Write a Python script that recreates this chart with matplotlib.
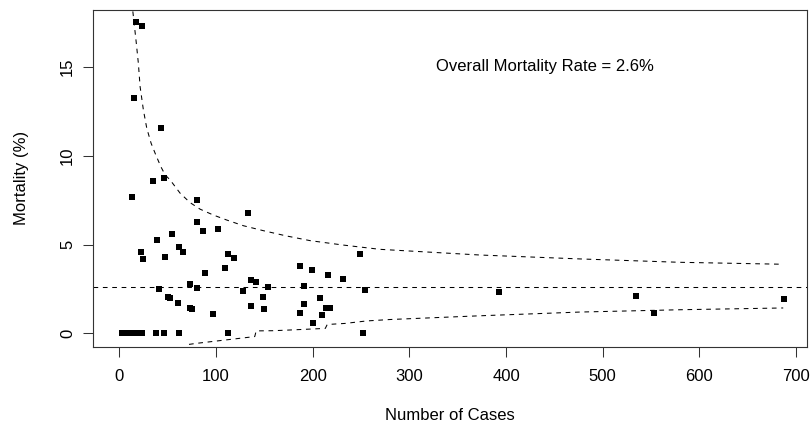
import matplotlib
matplotlib.use("Agg")
import matplotlib.pyplot as plt

plt.rcParams['font.family'] = ['Liberation Sans', 'DejaVu Sans']

# cases per centre and mortality (%)
cases = [17, 23.2, 14.9, 42.8, 46.2, 35, 13.1, 80, 133.4, 80,
         86.9, 101.8, 54.2, 38.6, 62, 66.2, 22.1, 24.2, 47.3, 112.7,
         118.9, 109.3, 88.9, 135.9, 141, 153.5, 127.9, 73.1, 80, 41.1,
         50, 52.4, 148.9, 61, 72.8, 75.2, 135.9, 150, 97.2,
         3, 8, 13, 18, 23, 38.3, 45.9, 62, 112.7, 252,
         249, 187, 199, 216, 231, 191, 254, 208, 191, 187,
         214, 217.5, 210, 200.6,
         393, 534, 553, 687]
mortality = [17.52, 17.31, 13.27, 11.58, 8.73, 8.6, 7.70, 7.51, 6.76, 6.25,
             5.76, 5.89, 5.58, 5.27, 4.86, 4.56, 4.56, 4.19, 4.28, 4.45,
             4.22, 3.70, 3.42, 2.99, 2.87, 2.61, 2.38, 2.76, 2.54, 2.48,
             2.06, 1.97, 2.05, 1.69, 1.44, 1.37, 1.52, 1.39, 1.09,
             0, 0, 0, 0, 0, 0, 0, 0, 0, 0,
             4.45, 3.79, 3.55, 3.28, 3.06, 2.65, 2.42, 1.97, 1.63, 1.13,
             1.44, 1.44, 1.01, 0.56,
             2.33, 2.10, 1.13, 1.93]

overall_rate = 2.59

# funnel limits
upper_n = [13.9, 17.3, 19.6, 21.4, 24.8, 28.3, 32.8, 37.6, 42.8, 47.3,
           52.4, 62.8, 73.1, 83.5, 97.2, 111, 128.2, 148.9, 173.1, 197.2,
           231.6, 269.6, 373, 476.4, 579.8, 686.7]
upper_v = [18.12, 16.43, 15.21, 13.89, 12.58, 11.55, 10.7, 10.05, 9.39, 8.92,
           8.64, 7.89, 7.36, 6.99, 6.66, 6.38, 6.06, 5.78, 5.48, 5.22,
           4.97, 4.73, 4.41, 4.19, 4.0, 3.89]
lower_n = [72, 80, 140, 141.5, 159, 176.5, 213, 215, 233.4, 255.8,
           280, 373, 476.4, 579.8, 686.7]
lower_v = [-0.62, -0.56, -0.18, 0.14, 0.15, 0.19, 0.28, 0.5, 0.56, 0.7,
           0.78, 0.99, 1.2, 1.33, 1.43]

xticks = [0, 100, 200, 300, 400, 500, 600, 700]
yticks = [0, 5, 10, 15]

W, H = 812, 430
fig = plt.figure(figsize=(W / 100, H / 100), dpi=100)
left, right, top, bottom = 93.3, 806.7, 10, 346.7
ax = fig.add_axes([left / W, 1 - bottom / H, (right - left) / W, (bottom - top) / H])

dash = (0, (4.5, 4.5))
ax.plot(upper_n, upper_v, color='black', lw=0.75, ls=dash)
ax.plot(lower_n, lower_v, color='black', lw=0.75, ls=dash)
ax.axhline(overall_rate, color='black', lw=0.75, ls=dash)
ax.plot(cases, mortality, ls='none', marker='s', ms=3.7, mfc='black', mec='black', mew=0)

ax.text(440, 15, 'Overall Mortality Rate = 2.6%', fontsize=12, ha='center', va='center')

ax.set_xlim(-27, 711)
ax.set_ylim(-0.75, 18.2)
ax.set_xticks(xticks)
ax.set_yticks(yticks)
ax.tick_params(axis='both', direction='out', length=7.2, width=0.75, labelsize=12, color='#333333')
ax.tick_params(axis='x', pad=9)
ax.tick_params(axis='y', pad=6)
for lab in ax.get_yticklabels():
    lab.set_rotation(90)
    lab.set_va('center')
for sp in ax.spines.values():
    sp.set_linewidth(0.8)
    sp.set_color('#333333')

fig.text((left + right) / 2 / W, 1 - 415 / H, 'Number of Cases', fontsize=12, ha='center', va='center')
fig.text(22 / W, 1 - (top + bottom) / 2 / H, 'Mortality (%)', fontsize=12, ha='center', va='center', rotation=90)

fig.savefig('out.png', dpi=100)
